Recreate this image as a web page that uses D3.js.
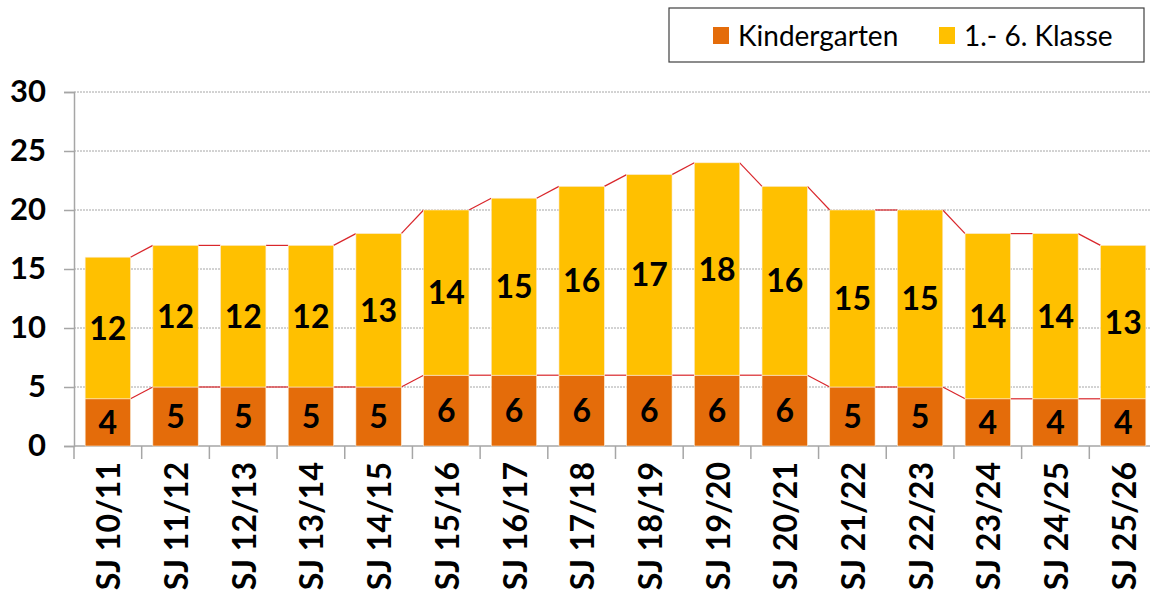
<!DOCTYPE html>
<html>
<head>
<meta charset="utf-8">
<script src="https://cdn.jsdelivr.net/npm/d3@7"></script>
<style>
  body { margin: 0; background: #fff; }
  text { font-family: Lato, "Open Sans", sans-serif; }
</style>
</head>
<body>
<svg width="1150" height="598"></svg>
<script>
const years = ["SJ 10/11","SJ 11/12","SJ 12/13","SJ 13/14","SJ 14/15","SJ 15/16","SJ 16/17","SJ 17/18",
               "SJ 18/19","SJ 19/20","SJ 20/21","SJ 21/22","SJ 22/23","SJ 23/24","SJ 24/25","SJ 25/26"];
const kindergarten = [4,5,5,5,5,6,6,6,6,6,6,5,5,4,4,4];
const klasse = [12,12,12,12,13,14,15,16,17,18,16,15,15,14,14,13];
const yTicks = [0,5,10,15,20,25,30];
const seriesNames = ["Kindergarten", "1.- 6. Klasse"];
const colors = ["#E46C0A", "#FFC000"];

const svg = d3.select("svg");

const x = d3.scaleBand(years, [74, 1157]).paddingInner(0.33).paddingOuter(0.165);
const y = d3.scaleLinear([0, 30], [446, 92]);

const rows = years.map((yr, i) => ({year: yr, k: kindergarten[i], c: klasse[i]}));
const stack = d3.stack().keys(["k", "c"])(rows);

// grid
svg.append("g")
    .selectAll("line")
    .data(yTicks.filter(d => d > 0))
    .join("line")
    .attr("x1", 74).attr("x2", 1150)
    .attr("y1", d => y(d)).attr("y2", d => y(d))
    .attr("stroke", "#a6a6a6")
    .attr("stroke-dasharray", "2,1")
    .attr("stroke-width", 1);

// y axis
const ya = svg.append("g")
    .attr("transform", "translate(74,0)")
    .call(d3.axisLeft(y).tickValues(yTicks).tickSize(10).tickPadding(18));
ya.select(".domain").attr("stroke", "#a6a6a6").attr("stroke-width", 1.5);
ya.selectAll(".tick line").attr("stroke", "#a6a6a6").attr("stroke-width", 1.5);
ya.selectAll(".tick text")
    .attr("font-family", "Lato, sans-serif")
    .attr("font-size", 31).attr("font-weight", "bold").attr("fill", "#000");

// x axis
const xa = svg.append("g").attr("transform", "translate(0,446)");
xa.append("line").attr("x1", 74).attr("x2", 1150).attr("y1", 0).attr("y2", 0)
    .attr("stroke", "#a6a6a6").attr("stroke-width", 1.5);
const step = x.step();
xa.selectAll("line.tk")
    .data(years)
    .join("line")
    .attr("class", "tk")
    .attr("x1", d => x(d) - x.paddingInner() * step / 2)
    .attr("x2", d => x(d) - x.paddingInner() * step / 2)
    .attr("y1", 0).attr("y2", 13)
    .attr("stroke", "#a6a6a6").attr("stroke-width", 1.5);
xa.selectAll("text")
    .data(years)
    .join("text")
    .attr("transform", d => `translate(${x(d) + x.bandwidth() / 2 + 1},${16}) rotate(-90)`)
    .attr("text-anchor", "end")
    .attr("dy", "0.36em")
    .attr("font-size", 32).attr("font-weight", "bold")
    .text(d => d);

// series lines
stack.forEach(s => {
    const segs = d3.pairs(s.map((d, i) => ({i, v: d[1]})));
    svg.append("g").selectAll("line")
        .data(segs)
        .join("line")
        .attr("x1", d => x(years[d[0].i]) + x.bandwidth())
        .attr("x2", d => x(years[d[1].i]))
        .attr("y1", d => y(d[0].v))
        .attr("y2", d => y(d[1].v))
        .attr("stroke", "#D9262B")
        .attr("stroke-width", 1.2);
});

// bars
stack.forEach((s, si) => {
    svg.append("g").selectAll("rect")
        .data(s)
        .join("rect")
        .attr("x", (d, i) => x(years[i]))
        .attr("y", d => y(d[1]))
        .attr("width", x.bandwidth())
        .attr("height", d => y(d[0]) - y(d[1]))
        .attr("fill", colors[si])
        .attr("stroke", "#fbe9d0")
        .attr("stroke-width", 0.6);

    svg.append("g").selectAll("text")
        .data(s)
        .join("text")
        .attr("x", (d, i) => x(years[i]) + x.bandwidth() / 2)
        .attr("y", d => y((d[0] + d[1]) / 2))
        .attr("dy", "0.36em")
        .attr("text-anchor", "middle")
        .attr("font-size", 32).attr("font-weight", "bold")
        .attr("fill", "#000")
        .text(d => d[1] - d[0]);
});

// legend
const lg = svg.append("g");
lg.append("rect").attr("x", 669).attr("y", 8).attr("width", 475).attr("height", 54)
    .attr("fill", "#fff").attr("stroke", "#404040").attr("stroke-width", 1.2);
const lx = [713, 939];
seriesNames.forEach((n, i) => {
    lg.append("rect").attr("x", lx[i]).attr("y", 27).attr("width", 16).attr("height", 17).attr("fill", colors[i]);
    lg.append("text").attr("x", lx[i] + 25).attr("y", 36).attr("dy", "0.36em")
        .attr("font-size", 28).attr("fill", "#000").text(n);
});
</script>
</body>
</html>
